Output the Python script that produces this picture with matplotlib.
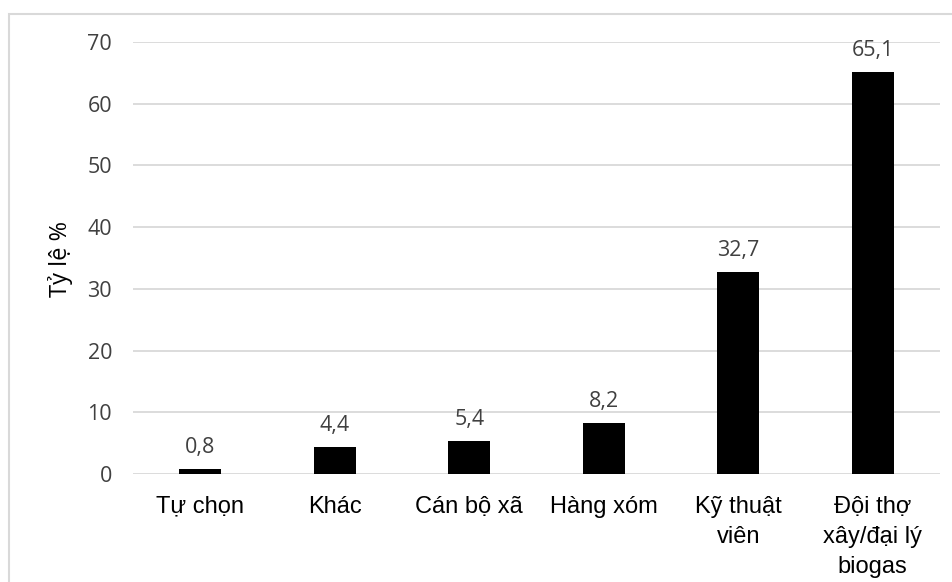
import matplotlib
matplotlib.use("Agg")
import matplotlib.pyplot as plt
from matplotlib.patches import Rectangle

categories = ["Tự chọn", "Khác", "Cán bộ xã", "Hàng xóm", "Kỹ thuật\nviên", "Đội thợ\nxây/đại lý\nbiogas"]
values = [0.8, 4.4, 5.4, 8.2, 32.7, 65.1]
yticks = [0, 10, 20, 30, 40, 50, 60, 70]
ylabel = "Tỷ lệ %"

W, H = 953, 582
fig = plt.figure(figsize=(W / 100, H / 100), dpi=100)
ax = fig.add_axes([133 / W, 1 - 474 / H, (940 - 133) / W, (474 - 42) / H])

x = list(range(len(categories)))
ax.bar(x, values, width=0.31, color="black", zorder=3)
ax.set_xlim(-0.5, len(categories) - 0.5)
ax.set_ylim(0, 70)
ax.set_yticks(yticks)
ax.set_yticklabels([str(v) for v in yticks], fontfamily="Open Sans", fontsize=15.5, color="#404040")
ax.set_xticks(x)
ax.set_xticklabels(categories, fontfamily="Liberation Sans", fontsize=17, color="black", linespacing=1.47)
ax.tick_params(axis="both", length=0)
ax.tick_params(axis="y", pad=15)
ax.tick_params(axis="x", pad=15.5)
ax.grid(axis="y", color="#d9d9d9", linewidth=1.3, zorder=0)
for s in ax.spines.values():
    s.set_visible(False)

for xi, v in zip(x, values):
    ax.annotate(f"{v:.1f}".replace(".", ","), (xi, v), xytext=(0, 8), textcoords="offset points",
                ha="center", va="bottom", fontfamily="Open Sans", fontsize=15.5, color="#404040")

fig.text(61 / W, 1 - 259 / H, ylabel, rotation=90, ha="center", va="center",
         fontfamily="Open Sans", fontsize=17, color="black")

fig.patches.append(Rectangle((9.5 / W, -0.05), (W + 10) / W, 1.05 - 13.5 / H,
                             transform=fig.transFigure, fill=False, edgecolor="#d9d9d9",
                             linewidth=1.5, clip_on=False))

fig.savefig("out.png", dpi=100)
